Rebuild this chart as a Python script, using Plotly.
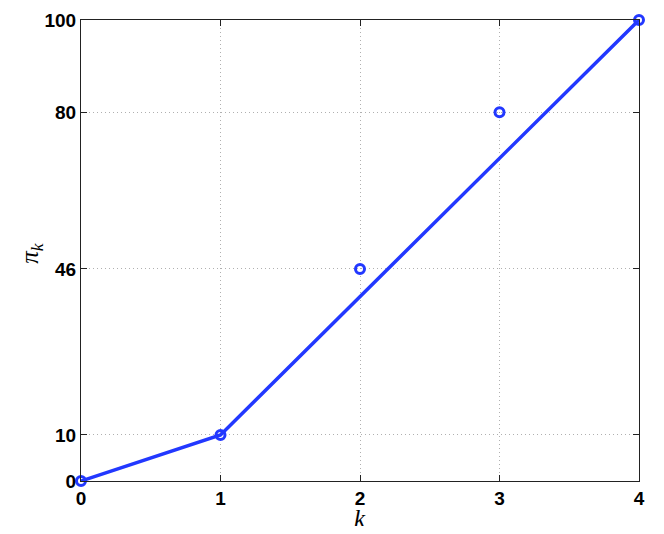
import plotly.graph_objects as go

k_points = [0, 1, 2, 3, 4]
pi_points = [0, 10, 46, 80, 100]
hull_k = [0, 1, 4]
hull_pi = [0, 10, 100]
x_ticks = [0, 1, 2, 3, 4]
y_ticks = [0, 10, 46, 80, 100]

blue = "#2238ff"

fig = go.Figure()
fig.add_trace(go.Scatter(x=hull_k, y=hull_pi, mode="lines",
                         line=dict(color=blue, width=3.5), cliponaxis=False,
                         showlegend=False))
fig.add_trace(go.Scatter(x=k_points, y=pi_points, mode="markers",
                         marker=dict(symbol="circle-open", size=9, color=blue,
                                     line=dict(width=3, color=blue)),
                         cliponaxis=False, showlegend=False))

tickfont = dict(family="Liberation Sans, Arial, sans-serif", size=19, color="black", weight="bold")
axis_common = dict(showline=True, linecolor="#222", linewidth=1, mirror="ticks",
                   ticks="inside", ticklen=6, tickcolor="#222",
                   showgrid=True, gridcolor="#b0b0b0", griddash="1px,3px", gridwidth=1,
                   zeroline=False, tickfont=tickfont, automargin=False)

fig.update_xaxes(range=[0, 4], tickvals=x_ticks, ticktext=[str(v) for v in x_ticks],
                 ticklabelstandoff=0, **axis_common)
fig.update_yaxes(range=[0, 100], tickvals=y_ticks, ticktext=[str(v) for v in y_ticks],
                 ticklabelstandoff=0, **axis_common)

title_font = dict(family="Liberation Serif, serif", size=25, color="black")

# page body has an 8px default margin, so the figure is sized to fit inside it
fig.update_layout(width=648, height=518, paper_bgcolor="white", plot_bgcolor="white",
                  margin=dict(l=73, r=17, t=12, b=45, autoexpand=False))
fig.add_annotation(text="<i>k</i>", x=0.5, xref="paper", xanchor="center",
                   y=0, yref="paper", yanchor="middle", yshift=-37,
                   showarrow=False, font=title_font)
fig.add_annotation(text="<i>π<sub>k</sub></i>", x=0, xref="paper", xanchor="center",
                   xshift=-49, y=0.495, yref="paper", yanchor="middle",
                   textangle=-90, showarrow=False, font=title_font)

fig.write_html("out.html")
